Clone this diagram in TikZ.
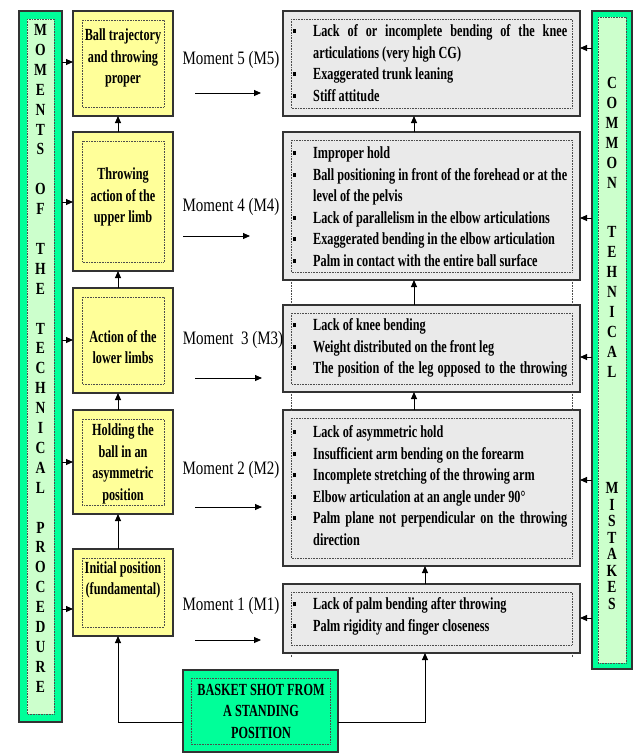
\documentclass[tikz,border=0pt]{standalone}
\usepackage{fontspec}
\setmainfont{Liberation Serif}
\newfontfamily\bxf[FakeStretch=0.8]{Liberation Serif}
\newfontfamily\gxf[FakeStretch=0.72]{Liberation Serif}
\newfontfamily\mf[FakeStretch=0.79]{Liberation Serif}
\usetikzlibrary{arrows.meta,calc}
\definecolor{bargreen}{HTML}{00FF99}
\definecolor{lightgreen}{HTML}{CCFFCC}
\definecolor{yboxc}{HTML}{FFFF99}
\definecolor{gboxc}{HTML}{EAEAEA}
\definecolor{edgec}{HTML}{333333}
\tikzset{
  frame/.style={draw=edgec, line width=1.3pt, anchor=north west, inner sep=0pt, outer sep=0pt},
  innerdot/.style={draw=black!70, densely dotted, line width=0.6pt},
  arr/.style={-{Triangle[length=7pt,width=6pt]}, line width=0.9pt, draw=black},
  ttl/.style={font=\gxf\bfseries\fontsize{17}{21.5}\selectfont, align=center, inner sep=0pt},
  bartxt/.style={font=\bxf\bfseries\fontsize{17}{17}\selectfont, inner sep=0pt},
  momtxt/.style={font=\mf\fontsize{19}{19}\selectfont, inner sep=0pt},
  gtext/.style={anchor=north west, inner sep=0pt, text width=274pt, align=justify,
    font=\gxf\bfseries\fontsize{17}{21.5}\selectfont}
}
\newcommand\boxat[8]{%
  \node[frame, fill=#2, minimum width=#6pt, minimum height=#7pt] (#1) at (#4,#5) {};
  \draw[innerdot, fill=#3] ($(#1.north west)+(#8,#8)$) rectangle ($(#1.south east)+(-#8,-#8)$);}
\newcommand\gi{\par\hangindent=20pt\hangafter=1\noindent\makebox[20pt][l]{\raisebox{3.5pt}{\rule{3.2pt}{3.8pt}}}}
\begin{document}
\begin{tikzpicture}[x=1pt,y=-1pt]
\fill[white] (0,0) rectangle (641,753);
\useasboundingbox (0,0) rectangle (641,753);
% side bars
\boxat{lb}{bargreen}{lightgreen}{19}{11}{43}{711}{8}
\boxat{rb}{bargreen}{lightgreen}{592}{11}{40}{658}{6}
% yellow boxes
\boxat{y5}{yboxc}{yboxc}{73}{11}{100}{105}{9}
\boxat{y4}{yboxc}{yboxc}{73}{132}{100}{139}{9}
\boxat{y3}{yboxc}{yboxc}{73}{288}{100}{105}{9}
\boxat{y2}{yboxc}{yboxc}{73}{410}{100}{104}{9}
\boxat{y1}{yboxc}{yboxc}{73}{549}{100}{87}{9}
% gray boxes
\boxat{g5}{gboxc}{gboxc}{283}{11}{297}{105}{8}
\boxat{g4}{gboxc}{gboxc}{283}{132}{297}{148}{8}
\boxat{g3}{gboxc}{gboxc}{283}{305}{297}{87}{8}
\boxat{g2}{gboxc}{gboxc}{283}{410}{297}{156}{8}
\boxat{g1}{gboxc}{gboxc}{283}{584}{297}{69}{8}
% bottom box
\boxat{bb}{bargreen}{bargreen}{183}{670}{155}{82}{8}
% dotted extensions
\draw[innerdot] ($(g4.south west)+(8,0)$) -- ($(g3.north west)+(8,0)$);
\draw[innerdot] ($(g4.south east)+(-8,0)$) -- ($(g3.north east)+(-8,0)$);
\draw[innerdot] ($(g3.south west)+(8,0)$) -- ($(g2.north west)+(8,0)$);
\draw[innerdot] ($(g3.south east)+(-8,0)$) -- ($(g2.north east)+(-8,0)$);
\draw[innerdot] ($(g1.south west)+(8,0)$) -- ($(g1.south west)+(8,4)$);
\draw[innerdot] ($(g1.south east)+(-8,0)$) -- ($(g1.south east)+(-8,4)$);
% bar letters
\foreach \l/\k [count=\i] in {M/0,O/1,M/2,E/3,N/4,T/5,S/6,O/8,F/9,T/11,H/12,E/13,T/15,E/16,C/17,H/18,N/19,I/20,C/21,A/22,L/23,P/25,R/26,O/27,C/28,E/29,D/30,U/31,R/32,E/33}
  \node[bartxt] (la\i) at (40.5,30+\k*19.9) {\l};
\foreach \l/\k [count=\i] in {C/0,O/1,M/2,M/3,O/4,N/5}
  \node[bartxt] (ra\i) at (612,83+\k*20) {\l};
\foreach \l/\k [count=\i] in {T/0,E/1,H/2,N/3,I/4,C/5,A/6,L/7}
  \node[bartxt] (rb\i) at (612,232+\k*20) {\l};
\foreach \l/\k [count=\i] in {M/0,I/1,S/2,T/3,A/4,K/5,E/6,S/7}
  \node[bartxt] (rc\i) at (612,488+\k*16.5) {\l};
% yellow texts
\node[ttl] (t5) at (123,58) {Ball trajectory\\and throwing\\proper};
\node[ttl] (t4) at (123,197) {Throwing\\action of the\\upper limb};
\node[ttl] (t3) at (123,347) {Action of the\\lower limbs};
\node[ttl] (t2) at (123,464) {Holding the\\ball in an\\asymmetric\\position};
\node[ttl] (t1) at (123,580) {Initial position\\(fundamental)};
\node[ttl] (tb) at (261,711) {BASKET SHOT FROM\\A STANDING\\POSITION};
% gray texts
\node[gtext] (x5) at (293,15) {\tolerance=9999
 \gi Lack of or incomplete bending of the knee\linebreak articulations (very high CG)
 \gi Exaggerated trunk leaning
 \gi Stiff attitude\par};
\node[gtext] (x4) at (293,137) {\tolerance=9999
 \gi Improper hold
 \gi Ball positioning in front of the forehead or at the\linebreak level of the pelvis
 \gi Lack of parallelism in the elbow articulations
 \gi Exaggerated bending in the elbow articulation
 \gi Palm in contact with the entire ball surface\par};
\node[gtext] (x3) at (293,309) {\tolerance=9999
 \gi Lack of knee bending
 \gi Weight distributed on the front leg
 \gi The position of the leg opposed to the throwing\parfillskip=0pt\par};
\node[gtext] (x2) at (293,416) {\tolerance=9999
 \gi Lack of asymmetric hold
 \gi Insufficient arm bending on the forearm
 \gi Incomplete stretching of the throwing arm
 \gi Elbow articulation at an angle under 90°
 \gi Palm plane not perpendicular on the throwing\linebreak direction\par};
\node[gtext] (x1) at (293,588) {\tolerance=9999
 \gi Lack of palm bending after throwing
 \gi Palm rigidity and finger closeness\par};
% moment labels
\node[momtxt] (m5) at (231,60) {Moment 5 (M5)};
\node[momtxt] (m4) at (231,207) {Moment 4 (M4)};
\node[momtxt] (m3) at (233,340) {Moment\ \ 3 (M3)};
\node[momtxt] (m2) at (231,470) {Moment 2 (M2)};
\node[momtxt] (m1) at (231,606) {Moment 1 (M1)};
\coordinate (m5a) at (195,93);  \coordinate (m5b) at (261,93);
\coordinate (m4a) at (183,236); \coordinate (m4b) at (250,236);
\coordinate (m3a) at (195,378); \coordinate (m3b) at (262,378);
\coordinate (m2a) at (195,507); \coordinate (m2b) at (262,507);
\coordinate (m1a) at (195,640); \coordinate (m1b) at (261,640);
\foreach \m in {5,4,3,2,1} \draw[arr] (m\m a) -- (m\m b);
% left bar arrows
\coordinate (l5) at ($(y5.west)+(0,-1.5)$);
\coordinate (l4) at ($(y4.west)+(0,0.5)$);
\coordinate (l3) at ($(y3.west)+(0,-0.5)$);
\coordinate (l2) at ($(y2.west)+(0,0)$);
\coordinate (l1) at ($(y1.west)+(0,16.5)$);
\foreach \m in {5,4,3,2,1} \draw[arr] (l\m -| lb.east) -- (l\m);
% right bar arrows
\coordinate (r5) at ($(g5.east)+(0,-15.5)$);
\coordinate (r4) at ($(g4.east)+(0,12)$);
\coordinate (r3) at ($(g3.east)+(0,8.5)$);
\coordinate (r2) at ($(g2.east)+(0,-8)$);
\coordinate (r1) at ($(g1.east)+(0,-0.5)$);
\foreach \m in {5,4,3,2,1} \draw[arr] (r\m -| rb.west) -- (r\m);
% yellow vertical arrows
\coordinate (yv1) at ($(y1.north)+(-5,0)$);
\coordinate (yv2) at ($(y2.north)+(-5,0)$);
\coordinate (yv3) at ($(y3.north)+(-5,0)$);
\coordinate (yv4) at ($(y4.north)+(-5,0)$);
\draw[arr] (yv1) -- (yv1 |- y2.south);
\draw[arr] (yv2) -- (yv2 |- y3.south);
\draw[arr] (yv3) -- (yv3 |- y4.south);
\draw[arr] (yv4) -- (yv4 |- y5.south);
% gray vertical arrows
\coordinate (gv1) at ($(g1.north)+(-6.5,0)$);
\coordinate (gv2) at ($(g2.north)+(-17.5,0)$);
\coordinate (gv3) at ($(g3.north)+(-17.5,0)$);
\coordinate (gv4) at ($(g4.north)+(-17.5,0)$);
\draw[arr] (gv1) -- (gv1 |- g2.south);
\draw[arr] (gv2) -- (gv2 |- g3.south);
\draw[arr] (gv3) -- (gv3 |- g4.south);
\draw[arr] (gv4) -- (gv4 |- g5.south);
% bottom connectors
\coordinate (bl) at ($(bb.west)+(0,11)$);
\coordinate (br) at ($(bb.east)+(0,11)$);
\draw[arr] (bl) -| ($(y1.south)+(-5,0)$);
\draw[arr] (br) -| ($(g1.south)+(-6.5,0)$);
\end{tikzpicture}
\end{document}
